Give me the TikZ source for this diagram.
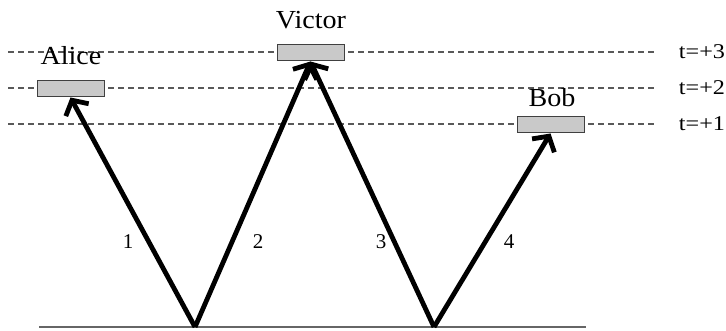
\documentclass[tikz,border=0pt]{standalone}
\usepackage{fontspec}
\setmainfont{Liberation Serif}
\newfontfamily\namefont[FakeStretch=1.08]{Liberation Serif}
\newfontfamily\tickfont[FakeStretch=1.15]{Liberation Serif}
\usetikzlibrary{arrows.meta}
\begin{document}
\begin{tikzpicture}[x=1pt,y=-1pt,
  timeline/.style={draw=black!65, line width=1.5pt, dash pattern=on 6pt off 4pt},
  ground/.style={draw=black!60, line width=1.8pt},
  agentbox/.style={draw=black!75, fill=black!21, line width=1pt, minimum width=67pt, minimum height=16pt, inner sep=0pt},
  namelabel/.style={font=\namefont\fontsize{26}{28}\selectfont, inner sep=0pt},
  ticklabel/.style={font=\tickfont\fontsize{21}{23}\selectfont, inner sep=0pt},
  numlabel/.style={font=\fontsize{21}{23}\selectfont, inner sep=0pt},
  msg/.style={draw=black, line width=4.8pt, -{Straight Barb[length=11pt,width=26pt]}}
]
\useasboundingbox (0,0) rectangle (726,331);
% time lines
\coordinate (l3a) at (8,52);  \coordinate (l3b) at (655,52);
\coordinate (l2a) at (8,88);  \coordinate (l2b) at (655,88);
\coordinate (l1a) at (8,124); \coordinate (l1b) at (655,124);
\draw[timeline] (l3a) -- (l3b);
\draw[timeline] (l2a) -- (l2b);
\draw[timeline] (l1a) -- (l1b);
\node[ticklabel] (t3) at (702,52) {t=+3};
\node[ticklabel] (t2) at (702,88) {t=+2};
\node[ticklabel] (t1) at (702,124) {t=+1};
% boxes
\node[agentbox] (alice) at (70.5,89) {};
\node[agentbox] (victor) at (310.5,53) {};
\node[agentbox] (bob) at (550.5,125) {};
\node[namelabel] (alicelbl) at (71,56) {Alice};
\node[namelabel] (victorlbl) at (311,20) {Victor};
\node[namelabel] (boblbl) at (552,98) {Bob};
% ground
\coordinate (g1) at (39,327);
\coordinate (g2) at (586,327);
\draw[ground] (g1) -- (g2);
\coordinate (p1) at (195,327);
\coordinate (p2) at (434,327);
% messages
\draw[msg] (p1) -- (alice.south);
\draw[msg] (p1) -- (victor.south);
\draw[msg] (p2) -- (victor.south);
\draw[msg] (p2) -- (bob.south);
\node[numlabel] (n1) at (128,242) {1};
\node[numlabel] (n2) at (258,242) {2};
\node[numlabel] (n3) at (381,242) {3};
\node[numlabel] (n4) at (509,242) {4};
\end{tikzpicture}
\end{document}
